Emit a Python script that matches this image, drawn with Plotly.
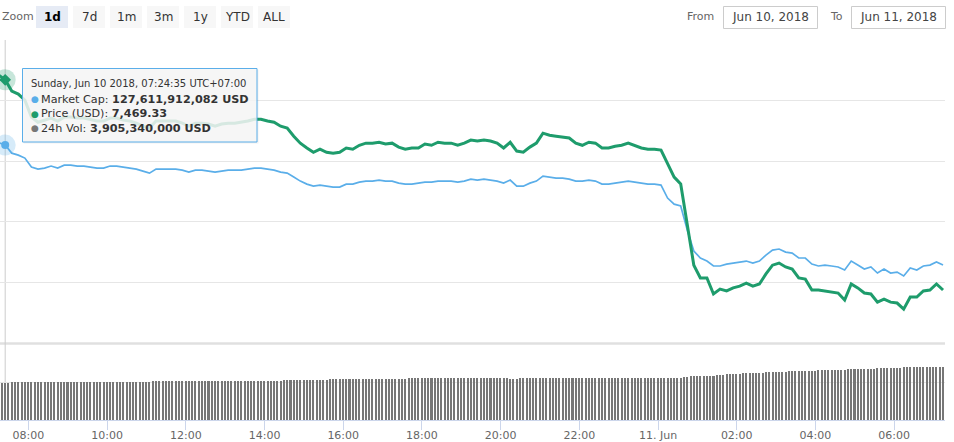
import pandas as pd
import plotly.graph_objects as go

# ---------------- data ----------------
LINE_START = "2018-06-10 07:14:35"   # 10-minute samples for the two lines
VOL_START = "2018-06-10 07:19:35"    # 5-minute samples for the volume columns

PRICE_USD = [
    7485, 7469.33, 7432, 7422, 7402, 7346, 7329, 7336, 7343, 7333,
    7346, 7346, 7343, 7343, 7339, 7333, 7333, 7343, 7343, 7336,
    7333, 7326, 7316, 7310, 7333, 7333, 7333, 7333, 7326, 7316,
    7326, 7326, 7323, 7316, 7323, 7326, 7326, 7329, 7333, 7339,
    7339, 7333, 7329, 7316, 7310, 7283, 7260, 7244, 7230, 7240,
    7230, 7227, 7230, 7244, 7240, 7253, 7260, 7260, 7263, 7257,
    7260, 7247, 7240, 7244, 7244, 7257, 7253, 7263, 7260, 7260,
    7253, 7260, 7270, 7267, 7270, 7267, 7260, 7244, 7263, 7234,
    7230, 7247, 7260, 7293, 7286, 7283, 7280, 7277, 7260, 7253,
    7263, 7260, 7244, 7244, 7250, 7253, 7260, 7253, 7244, 7240,
    7240, 7237, 7191, 7148, 7125, 6990, 6857, 6815, 6815, 6762,
    6778, 6772, 6782, 6788, 6798, 6788, 6795, 6828, 6857, 6864,
    6851, 6844, 6815, 6811, 6775, 6775, 6772, 6768, 6765, 6742,
    6795, 6782, 6765, 6762, 6735, 6745, 6735, 6732, 6712, 6752,
    6752, 6772, 6775, 6795, 6775,
]

MARKET_CAP_BN = [
    127.85, 127.611912082, 126.81, 126.61, 126.32, 125.43, 125.23, 125.33, 125.53, 125.33,
    125.62, 125.62, 125.53, 125.53, 125.43, 125.33, 125.33, 125.53, 125.53, 125.43,
    125.33, 125.23, 125.03, 124.83, 125.23, 125.23, 125.23, 125.23, 125.13, 124.93,
    125.13, 125.13, 125.03, 124.93, 125.03, 125.13, 125.13, 125.13, 125.23, 125.33,
    125.33, 125.23, 125.13, 124.93, 124.83, 124.44, 124.04, 123.74, 123.54, 123.64,
    123.54, 123.45, 123.45, 123.74, 123.74, 123.94, 124.04, 124.04, 124.14, 124.04,
    124.04, 123.84, 123.74, 123.74, 123.84, 123.94, 123.94, 124.04, 124.04, 124.04,
    123.94, 124.04, 124.24, 124.14, 124.24, 124.14, 124.04, 123.84, 124.14, 123.54,
    123.54, 123.84, 124.04, 124.54, 124.44, 124.34, 124.34, 124.24, 124.04, 124.04,
    124.14, 124.04, 123.74, 123.74, 123.84, 123.94, 124.04, 123.94, 123.84, 123.74,
    123.74, 123.64, 122.36, 121.76, 121.57, 119.19, 117.11, 116.42, 116.12, 115.63,
    115.63, 115.82, 115.92, 116.02, 116.12, 115.92, 116.12, 116.71, 117.21, 117.31,
    117.01, 116.91, 116.42, 116.42, 115.82, 115.63, 115.72, 115.63, 115.53, 115.23,
    116.12, 115.72, 115.33, 115.53, 114.93, 115.33, 114.93, 115.03, 114.64, 115.43,
    115.23, 115.63, 115.72, 116.02, 115.72,
]

VOLUME_24H_BN = [
    3.88, 3.90534, 3.905, 3.97, 3.97, 3.97, 3.97, 3.97, 3.97, 3.97,
    4.04, 4.04, 4.04, 4.04, 4.04, 4.04, 4.04, 4.04, 4.04, 4.04,
    4.04, 4.04, 4.04, 4.04, 4.04, 4.04, 4.04, 4.04, 4.04, 4.04,
    4.04, 4.04, 4.04, 4.04, 4.04, 4.04, 4.04, 4.04, 4.04, 4.04,
    4.04, 4.04, 4.04, 4.04, 4.04, 4.04, 4.14, 4.14, 4.14, 4.14,
    4.14, 4.14, 4.14, 4.14, 4.14, 4.14, 4.14, 4.14, 4.14, 4.14,
    4.14, 4.14, 4.14, 4.14, 4.14, 4.14, 4.14, 4.14, 4.14, 4.14,
    4.14, 4.14, 4.14, 4.14, 4.14, 4.14, 4.14, 4.14, 4.14, 4.14,
    4.14, 4.14, 4.14, 4.14, 4.14, 4.14, 4.25, 4.25, 4.25, 4.25,
    4.25, 4.25, 4.25, 4.25, 4.25, 4.25, 4.25, 4.25, 4.25, 4.25,
    4.36, 4.36, 4.36, 4.36, 4.36, 4.36, 4.36, 4.36, 4.36, 4.36,
    4.36, 4.36, 4.36, 4.36, 4.36, 4.36, 4.36, 4.36, 4.36, 4.36,
    4.36, 4.36, 4.36, 4.36, 4.47, 4.47, 4.47, 4.47, 4.47, 4.47,
    4.47, 4.47, 4.47, 4.47, 4.47, 4.47, 4.47, 4.47, 4.47, 4.47,
    4.47, 4.47, 4.47, 4.47, 4.47, 4.47, 4.47, 4.47, 4.47, 4.47,
    4.47, 4.47, 4.47, 4.47, 4.47, 4.36, 4.36, 4.36, 4.47, 4.47,
    4.47, 4.47, 4.47, 4.47, 4.47, 4.47, 4.47, 4.47, 4.47, 4.47,
    4.47, 4.47, 4.47, 4.47, 4.47, 4.47, 4.47, 4.47, 4.47, 4.47,
    4.47, 4.47, 4.47, 4.47, 4.47, 4.47, 4.47, 4.47, 4.47, 4.47,
    4.47, 4.47, 4.47, 4.47, 4.47, 4.47, 4.47, 4.47, 4.47, 4.47,
    4.47, 4.47, 4.47, 4.47, 4.47, 4.47, 4.47, 4.47, 4.53, 4.53,
    4.60, 4.60, 4.60, 4.67, 4.67, 4.67, 4.67, 4.67, 4.74, 4.74,
    4.74, 4.83, 4.83, 4.83, 4.83, 4.83, 4.95, 4.95, 4.95, 4.95,
    4.95, 4.95, 4.95, 5.05, 5.05, 5.05, 5.05, 5.05, 5.05, 5.05,
    5.15, 5.15, 5.15, 5.15, 5.15, 5.15, 5.15, 5.15, 5.15, 5.26,
    5.26, 5.26, 5.26, 5.26, 5.26, 5.26, 5.26, 5.26, 5.36, 5.36,
    5.36, 5.36, 5.36, 5.36, 5.36, 5.36, 5.36, 5.47, 5.47, 5.47,
    5.47, 5.47, 5.47, 5.47, 5.47, 5.58, 5.58, 5.58, 5.58, 5.58,
    5.58, 5.58, 5.58, 5.58, 5.58, 5.58, 5.58, 5.58,
]

TICK_VALS = [
    "2018-06-10 08:00", "2018-06-10 10:00", "2018-06-10 12:00", "2018-06-10 14:00",
    "2018-06-10 16:00", "2018-06-10 18:00", "2018-06-10 20:00", "2018-06-10 22:00",
    "2018-06-11 00:00", "2018-06-11 02:00", "2018-06-11 04:00", "2018-06-11 06:00",
]
TICK_TEXT = ["08:00", "10:00", "12:00", "14:00", "16:00", "18:00", "20:00",
             "22:00", "11. Jun", "02:00", "04:00", "06:00"]

X_RANGE = ["2018-06-10 07:16:40", "2018-06-11 07:17:35"]
HOVER_TIME = "2018-06-10 07:24:35"
HOVER_HEADER = "Sunday, Jun 10 2018, 07:24:35 UTC+07:00"
HOVER_CAP = "127,611,912,082 USD"
HOVER_PRICE = "7,469.33"
HOVER_VOL = "3,905,340,000 USD"

ZOOM_BUTTONS = ["1d", "7d", "1m", "3m", "1y", "YTD", "ALL"]
FROM_DATE = "Jun 10, 2018"
TO_DATE = "Jun 11, 2018"

# ---------------- styling ----------------
BLUE = "#5aaee9"
GREEN = "#1e9c6c"
GREY = "#777777"
FONT = "DejaVu Sans"
W, H = 954, 442
PLOT_W, PLOT_H = 945, 420


def px(x):
    return x / PLOT_W


def py(y):
    return (PLOT_H - y) / PLOT_H


line_t = pd.date_range(LINE_START, periods=len(PRICE_USD), freq="10min")
vol_t = pd.date_range(VOL_START, periods=len(VOLUME_24H_BN), freq="5min")
cap_usd = [v * 1e9 for v in MARKET_CAP_BN]
vol_usd = [v * 1e9 for v in VOLUME_24H_BN]

fig = go.Figure()
fig.add_trace(go.Bar(x=vol_t, y=vol_usd, yaxis="y3", marker=dict(color=GREY, line=dict(width=0)),
                     width=5 * 60 * 1000 * 0.62, name="24h Vol"))
fig.add_trace(go.Scatter(x=line_t, y=cap_usd, yaxis="y", mode="lines",
                         line=dict(color=BLUE, width=1.7), name="Market Cap"))
fig.add_trace(go.Scatter(x=line_t, y=PRICE_USD, yaxis="y2", mode="lines",
                         line=dict(color=GREEN, width=3), name="Price (USD)"))

# hover halos / markers at the hovered point
hp = PRICE_USD[1]
hc = cap_usd[1]
fig.add_trace(go.Scatter(x=[HOVER_TIME], y=[hc], yaxis="y", mode="markers",
                         marker=dict(size=21, color="rgba(90,174,233,0.25)", line=dict(width=0))))
fig.add_trace(go.Scatter(x=[HOVER_TIME], y=[hc], yaxis="y", mode="markers",
                         marker=dict(size=8, color=BLUE, symbol="circle", line=dict(width=0))))
fig.add_trace(go.Scatter(x=[HOVER_TIME], y=[hp], yaxis="y2", mode="markers",
                         marker=dict(size=21, color="rgba(30,156,108,0.25)", line=dict(width=0))))
fig.add_trace(go.Scatter(x=[HOVER_TIME], y=[hp], yaxis="y2", mode="markers",
                         marker=dict(size=9, color=GREEN, symbol="diamond", line=dict(width=0))))

top_dom = [py(343), py(40)]
vol_dom = [0, py(344)]

fig.update_layout(
    width=W, height=H,
    margin=dict(l=0, r=W - PLOT_W, t=0, b=H - PLOT_H, autoexpand=False),
    paper_bgcolor="white", plot_bgcolor="white",
    showlegend=False,
    bargap=0,
    font=dict(family=FONT, color="#666666", size=11),
    xaxis=dict(anchor="y3", range=X_RANGE, type="date", tickvals=TICK_VALS, ticktext=TICK_TEXT,
               ticks="outside", ticklen=9, tickcolor="#ccd6eb", showline=True, linecolor="#ccd6eb",
               showgrid=False, zeroline=False, automargin=False, ticklabelstandoff=-4,
               tickfont=dict(size=11, color="#666666", family=FONT)),
    yaxis=dict(domain=top_dom, range=[108e9, 138.02e9], tick0=108e9, dtick=6e9, automargin=False,
               showticklabels=False, gridcolor="#e6e6e6", zeroline=False, showline=False),
    yaxis2=dict(overlaying="y", range=[6600, 7600.7], showgrid=False, showticklabels=False,
                zeroline=False, showline=False, automargin=False),
    yaxis3=dict(domain=vol_dom, range=[0, 8e9], tick0=0, dtick=4e9, showticklabels=False,
                gridcolor="#e6e6e6", zeroline=False, showline=False, automargin=False),
)

shapes = []
annotations = []

# separator line between panes
shapes.append(dict(type="line", xref="paper", yref="paper", x0=0, x1=1, y0=py(343.5), y1=py(343.5),
                   line=dict(color="#e0e0e0", width=2.5), layer="below"))
# crosshair
shapes.append(dict(type="line", xref="x", yref="paper", x0=HOVER_TIME, x1=HOVER_TIME,
                   y0=py(420), y1=py(40), line=dict(color="#cccccc", width=1), layer="below"))

# tooltip box (+ faint shadow)
shapes.append(dict(type="rect", xref="paper", yref="paper", x0=px(23.5), x1=px(258.5), y0=py(143.5), y1=py(69.5),
                   fillcolor="rgba(0,0,0,0.06)", line=dict(width=0), layer="above"))
shapes.append(dict(type="rect", xref="paper", yref="paper", x0=px(22.5), x1=px(257), y0=py(142), y1=py(68.5),
                   fillcolor="rgba(247,247,247,0.85)", line=dict(color=BLUE, width=1), layer="above"))

annotations.append(dict(xref="paper", yref="paper", x=px(29), y=py(84), xanchor="left", yanchor="middle",
                        text=HOVER_HEADER, showarrow=False, font=dict(size=10, color="#333333", family=FONT)))
rows = [(BLUE, "Market Cap: ", HOVER_CAP, 99), (GREEN, "Price (USD): ", HOVER_PRICE, 113.5),
        (GREY, "24h Vol: ", HOVER_VOL, 128)]
for col, lab, val, yy in rows:
    annotations.append(dict(xref="paper", yref="paper", x=px(28.5), y=py(yy), xanchor="left", yanchor="middle",
                            text="●", showarrow=False, font=dict(size=9, color=col, family=FONT)))
    annotations.append(dict(xref="paper", yref="paper", x=px(39), y=py(yy), xanchor="left", yanchor="middle",
                            text=lab + "<b>" + val + "</b>", showarrow=False,
                            font=dict(size=11.2, color="#333333", family=FONT)))

# range selector look-alike
annotations.append(dict(xref="paper", yref="paper", x=0, y=py(17), xanchor="left", yanchor="middle",
                        text="Zoom", showarrow=False, font=dict(size=11, color="#666666", family=FONT)))
btn_x = [36, 73, 110, 147, 184, 221, 258]
for i, (lab, bx) in enumerate(zip(ZOOM_BUTTONS, btn_x)):
    sel = i == 0
    shapes.append(dict(type="rect", xref="paper", yref="paper", x0=px(bx), x1=px(bx + 32),
                       y0=py(28), y1=py(6), fillcolor="#e6ebf5" if sel else "#f7f7f7",
                       line=dict(width=0), layer="above"))
    annotations.append(dict(xref="paper", yref="paper", x=px(bx + 16), y=py(17), xanchor="center",
                            yanchor="middle", text="<b>" + lab + "</b>" if sel else lab, showarrow=False,
                            font=dict(size=12, color="#000000" if sel else "#333333", family=FONT)))

# From / To inputs
annotations.append(dict(xref="paper", yref="paper", x=px(716), y=py(17), xanchor="right", yanchor="middle",
                        text="From", showarrow=False, font=dict(size=11, color="#666666", family=FONT)))
annotations.append(dict(xref="paper", yref="paper", x=px(845), y=py(17), xanchor="right", yanchor="middle",
                        text="To", showarrow=False, font=dict(size=11, color="#666666", family=FONT)))
for x0, x1, txt in [(723.5, 817.5, FROM_DATE), (851.5, 945.5, TO_DATE)]:
    shapes.append(dict(type="rect", xref="paper", yref="paper", x0=px(x0), x1=px(x1), y0=py(28.5), y1=py(6.5),
                       fillcolor="white", line=dict(color="#cccccc", width=1), layer="above"))
    annotations.append(dict(xref="paper", yref="paper", x=px((x0 + x1) / 2), y=py(17.5), xanchor="center",
                            yanchor="middle", text=txt, showarrow=False,
                            font=dict(size=12, color="#444444", family=FONT)))

fig.update_layout(shapes=shapes, annotations=annotations)
fig.write_html(
    "out.html",
    config={"displayModeBar": False},
    post_script="document.body.style.margin='0';document.body.style.padding='0';"
                "document.body.style.overflow='hidden';",
)
